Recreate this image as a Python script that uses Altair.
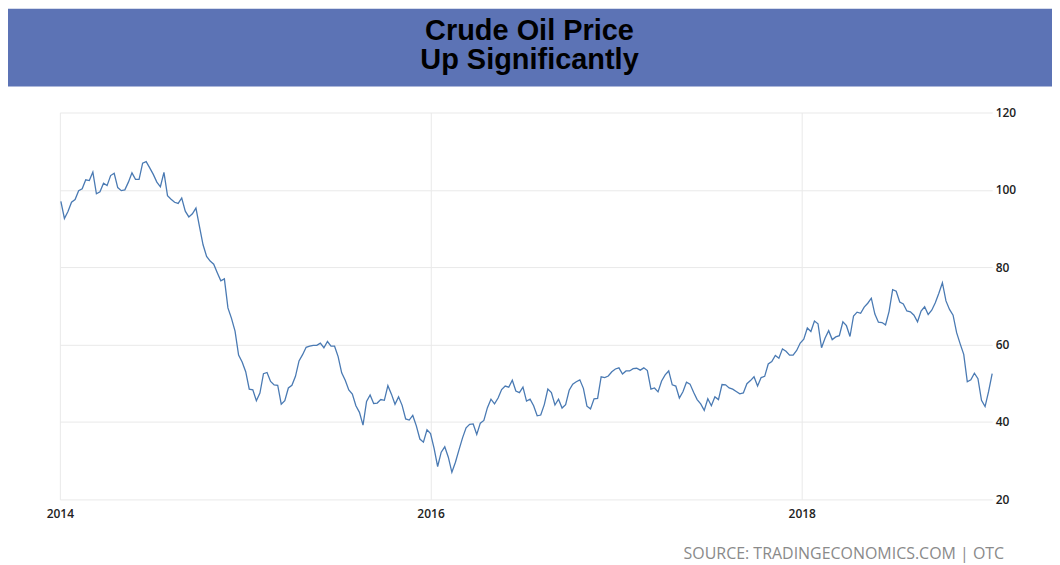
import altair as alt
import pandas as pd

# Weekly (Friday) crude oil prices
prices_2014 = [97.0, 92.6, 94.4, 96.8, 97.5,
               99.8, 100.3, 102.6, 102.4,
               104.6, 99.0, 99.5, 101.7,
               101.1, 103.7, 104.3, 100.6,
               99.8, 100.0, 102.0, 104.4, 102.7,
               102.7, 106.9, 107.3, 105.7,
               104.0, 102.0, 100.8, 104.5,
               98.5, 97.6, 96.8, 96.5, 97.9,
               94.5, 93.0, 93.8, 95.3,
               90.5, 85.8, 82.8, 81.6, 80.8,
               78.6, 76.5, 77.0, 69.5,
               66.8, 63.5, 57.3, 55.5]
prices_2015 = [53.0, 48.5, 48.3, 45.5, 47.5,
               52.5, 52.8, 50.5, 49.6,
               49.5, 44.6, 45.5, 48.8,
               49.5, 51.8, 55.8, 57.4,
               59.3, 59.6, 59.8, 59.8, 60.4,
               59.2, 60.8, 59.6, 59.6,
               56.9, 52.7, 50.8, 48.3, 47.2,
               44.2, 42.5, 39.2, 45.3,
               47.0, 44.8, 44.9, 45.8,
               45.6, 49.4, 47.2, 44.6, 46.5,
               44.3, 40.8, 40.5, 41.7,
               39.0, 35.6, 34.8, 38.0]
prices_2016 = [37.0, 33.2, 28.5, 32.2, 33.6,
               30.9, 27.0, 29.6, 32.8,
               35.9, 38.5, 39.4, 39.5,
               36.8, 39.7, 40.4, 43.7, 45.9,
               44.7, 46.2, 48.4, 49.3,
               49.0, 50.8, 48.0, 47.6,
               49.0, 45.4, 45.9, 44.2, 41.6,
               41.8, 44.5, 48.5, 47.6,
               44.4, 45.9, 43.6, 44.5, 48.2,
               49.8, 50.4, 50.9, 48.7,
               44.1, 43.4, 46.0, 46.1,
               51.7, 51.5, 51.9, 53.0, 53.7]
prices_2017 = [54.0, 52.4, 53.2, 53.2,
               53.8, 53.9, 53.4, 54.0,
               53.3, 48.5, 48.8, 47.8, 50.6,
               52.2, 53.2, 49.6, 49.3,
               46.2, 47.8, 50.3, 49.8,
               47.7, 45.8, 44.7, 43.0, 46.0,
               44.2, 46.5, 45.8, 49.7,
               49.6, 48.8, 48.5, 47.9,
               47.3, 47.5, 49.9, 50.7, 51.7,
               49.3, 51.5, 51.8, 55.0,
               55.6, 57.2, 56.5, 58.9,
               58.3, 57.3, 57.3, 58.5, 60.4]
prices_2018 = [61.4, 64.3, 63.4, 66.1,
               65.4, 59.2, 61.7, 63.6,
               61.3, 62.0, 62.3, 65.9, 64.9,
               62.1, 67.4, 68.4, 68.1,
               69.7, 70.7, 72.0, 67.9,
               65.8, 65.7, 65.1, 68.6, 74.2,
               73.8, 71.0, 70.5, 68.7,
               68.5, 67.6, 65.9, 68.7, 69.8,
               67.8, 68.9, 70.8, 73.3,
               76.0, 71.3, 69.1, 67.6,
               63.1, 60.2, 57.5, 50.4, 50.9,
               52.6, 51.2, 45.6, 44.0]
prices_2019 = [47.9, 52.5]

year_spans = [("2014-01-01", "2014-12-31", prices_2014),
              ("2015-01-01", "2015-12-31", prices_2015),
              ("2016-01-01", "2016-12-31", prices_2016),
              ("2017-01-01", "2017-12-31", prices_2017),
              ("2018-01-01", "2018-12-31", prices_2018),
              ("2019-01-01", "2019-01-11", prices_2019)]

frames = []
for start, end, vals in year_spans:
    d = pd.date_range(start, end, freq="W-FRI")
    assert len(d) == len(vals), (start, len(d), len(vals))
    frames.append(pd.DataFrame({"date": d, "price": vals}))
df = pd.concat(frames, ignore_index=True)

y_ticks = [20, 40, 60, 80, 100, 120]
x_tick_years = [2014, 2016, 2018]
title_lines = ["Crude Oil Price", "Up Significantly"]
source_text = "SOURCE: TRADINGECONOMICS.COM | OTC"

W, H = 935, 388
one = pd.DataFrame({"k": [0]})

line = alt.Chart(df).mark_line(color="#4a7ab3", strokeWidth=1.3).encode(
    x=alt.X("date:T",
            scale=alt.Scale(domain=[alt.DateTime(year=2014, month=1, date=1),
                                    alt.DateTime(year=2019, month=1, date=11)]),
            axis=alt.Axis(values=[alt.DateTime(year=y, month=1, date=1) for y in x_tick_years],
                          format="%Y", title=None, grid=True, gridColor="#e9e9e9",
                          domain=False, ticks=False, labelPadding=9, labelFlush=False,
                          labelFont="Open Sans", labelFontSize=12, labelFontWeight=600,
                          labelColor="#222")),
    y=alt.Y("price:Q",
            scale=alt.Scale(domain=[20, 120], nice=False, zero=False),
            axis=alt.Axis(values=y_ticks, orient="right", title=None, grid=True,
                          gridColor="#e9e9e9", domain=False, ticks=False,
                          labelPadding=3, labelFont="Open Sans", labelFontSize=12,
                          labelFontWeight=600, labelColor="#222")),
)

banner = alt.Chart(one).mark_rect(color="#5c73b5").encode(
    x=alt.value(-52), x2=alt.value(995), y=alt.value(-104), y2=alt.value(-26)
)

title1 = alt.Chart(one).mark_text(font="Liberation Sans", fontWeight="bold", fontSize=29,
                                  color="#000", align="center", baseline="alphabetic").encode(
    x=alt.value(471), y=alt.value(-73), text=alt.value(title_lines[0])
)
title2 = alt.Chart(one).mark_text(font="Liberation Sans", fontWeight="bold", fontSize=29,
                                  color="#000", align="center", baseline="alphabetic").encode(
    x=alt.value(471), y=alt.value(-44), text=alt.value(title_lines[1])
)

source = alt.Chart(one).mark_text(font="Open Sans", fontSize=16, color="#8a8a8a",
                                  align="right", baseline="alphabetic").encode(
    x=alt.value(947), y=alt.value(448), text=alt.value(source_text)
)

chart = alt.layer(banner, title1, title2, line, source).properties(
    width=W, height=H,
    autosize=alt.AutoSizeParams(type="none"),
    padding={"left": 52, "top": 104, "right": 60, "bottom": 64},
).configure_view(strokeWidth=0)

chart.save("out.html", embed_options={"renderer": "svg", "actions": False})
